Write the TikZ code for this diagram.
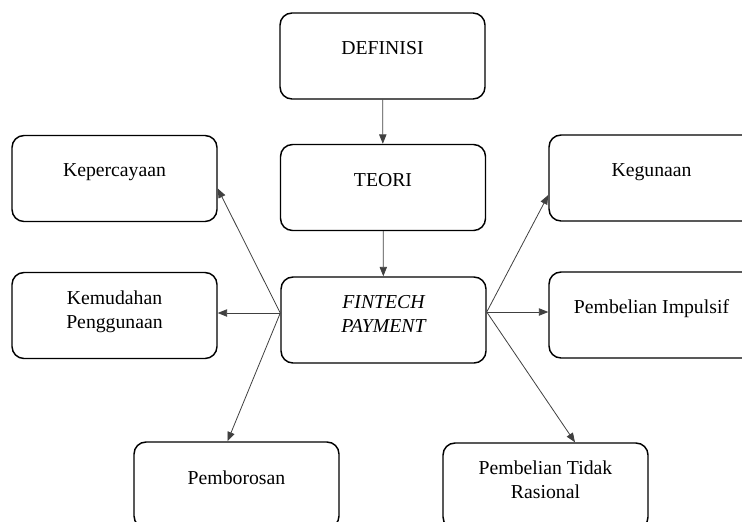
\documentclass[tikz,border=0pt]{standalone}
\usepackage{fontspec}
\setmainfont{Liberation Serif}
\usetikzlibrary{calc,positioning,arrows.meta}

\begin{document}
\begin{tikzpicture}[x=0.75pt,y=-0.75pt,>={Triangle[length=7pt,width=5.5pt]}]
      \tikzset{
	  box/.style={draw, line width=1.1pt, rounded corners=9pt, minimum width=153.75pt, minimum height=64.5pt, inner sep=0pt},
	  txt/.style={inner sep=0pt, align=center, font=\fontsize{14.8}{18}\selectfont},
	  arr/.style={->, draw=black!75, line width=0.6pt},
      }
      \clip (0,0) rectangle (742,521);

      % boxes
      \node (definisi) at (382.5, 56) [box] {};
      \node (teori) at (383, 187.5) [box] {};
      \node (fintech) at (383.5, 320) [box] {};
      \node (kepercayaan) at (114.5, 178.5) [box] {};
      \node (kemudahan) at (114.5, 315.5) [box] {};
      \node (pemborosan) at (236.5, 485) [box] {};
      \node (kegunaan) at (651.5, 178) [box] {};
      \node (impulsif) at (651.5, 315) [box] {};
      \node (rasional) at (545.5, 486) [box] {};

      % texts
      \node (definisi-t) [txt, below=21.75pt of definisi.north] {DEFINISI};
      \node (teori-t) [txt, below=21.75pt of teori.north] {TEORI};
      \node (fintech-t) [txt, below=13.9pt of fintech.north, font=\fontsize{14.8}{18}\selectfont\itshape] {FINTECH\\PAYMENT};
      \node (kepercayaan-t) [txt, below=21.75pt of kepercayaan.north] {Kepercayaan};
      \node (kemudahan-t) [txt, below=13.9pt of kemudahan.north] {Kemudahan\\Penggunaan};
      \node (pemborosan-t) [txt, below=21.75pt of pemborosan.north] {Pemborosan};
      \node (kegunaan-t) [txt, below=21.75pt of kegunaan.north] {Kegunaan};
      \node (impulsif-t) [txt, below=21pt of impulsif.north] {Pembelian Impulsif};
      \node (rasional-t) [txt, below=13.9pt of rasional.north] {Pembelian Tidak\\Rasional};

      % connectors
      \coordinate (fl) at ($(fintech.west)+(0,-7)$);
      \coordinate (fr) at ($(fintech.east)+(0,-8)$);
      \draw [arr] (definisi) -- (teori);
      \draw [arr] (teori) -- (fintech);
      \draw [arr] (fl) -- ($(kepercayaan.east)+(0,10)$);
      \draw [arr] (fl) -- (kemudahan.east |- fl);
      \draw [arr] (fl) -- ($(pemborosan.north)+(-9,0)$);
      \draw [arr] (fr) -- ($(kegunaan.west)+(0,17)$);
      \draw [arr] (fr) -- (impulsif.west |- fr);
      \draw [arr] (fr) -- ($(rasional.north)+(29.5,0)$);
\end{tikzpicture}
\end{document}
